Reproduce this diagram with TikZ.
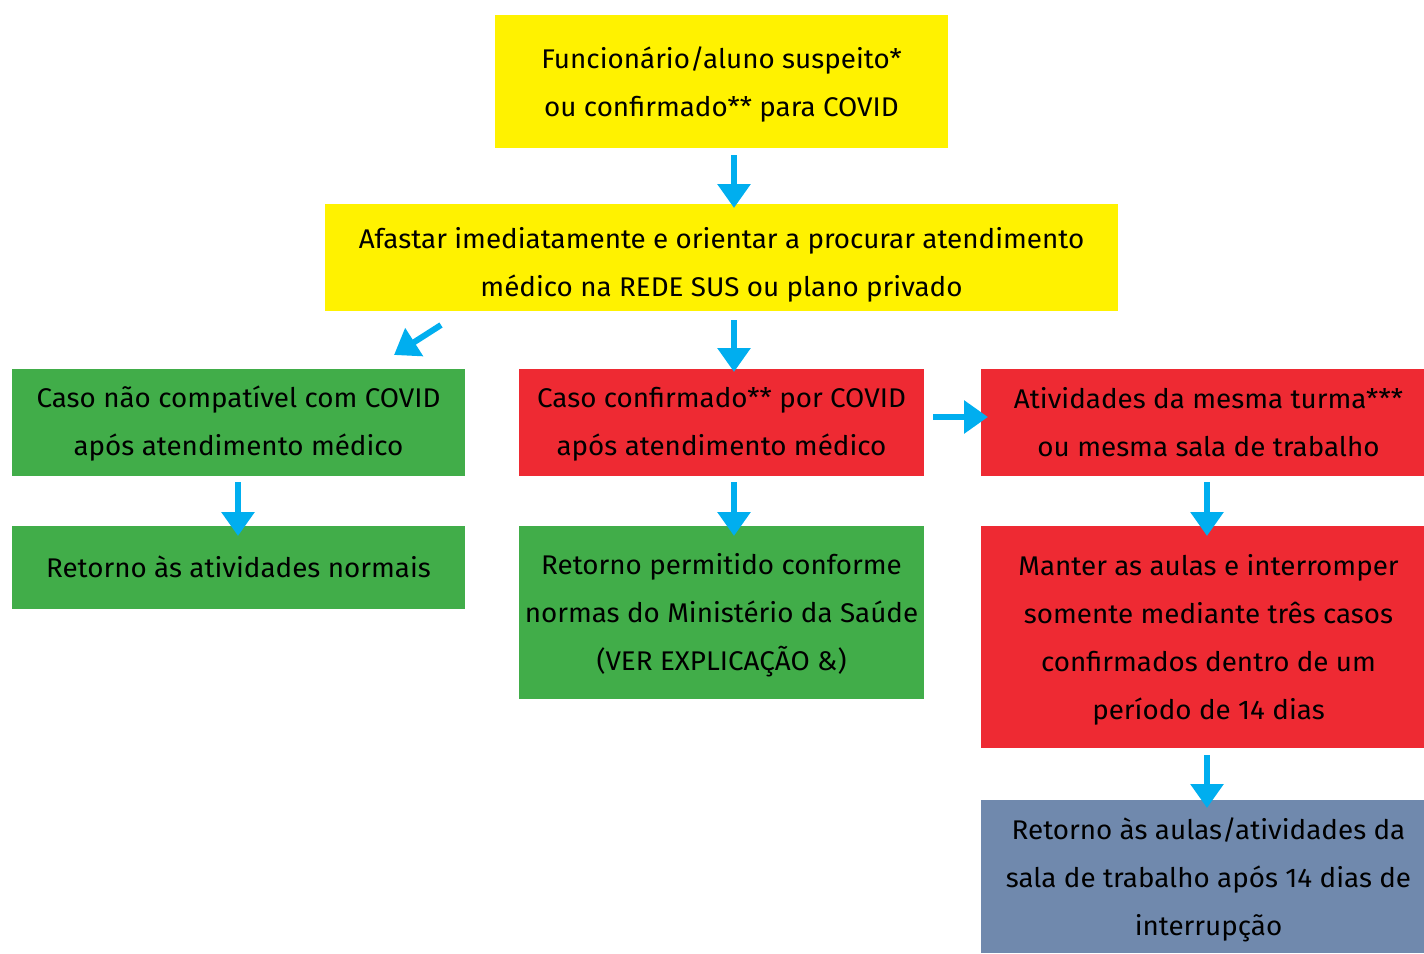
\documentclass[tikz,border=0pt]{standalone}
\usepackage{fontspec}
\setmainfont{Fira Sans}[FakeStretch=1.03]
\usetikzlibrary{arrows.meta}
\definecolor{cyel}{HTML}{FFF200}
\definecolor{cgrn}{HTML}{41AD49}
\definecolor{cred}{HTML}{EE2A33}
\definecolor{cblu}{HTML}{7089AD}
\definecolor{carr}{HTML}{00AEEF}
\tikzset{
  box/.style={inner sep=0pt, outer sep=0pt, align=center, font=\fontsize{27}{48}\selectfont, text=black},
  arr/.style={draw=carr, line width=6pt, -{Triangle[width=32pt,length=24pt]}}
}
\begin{document}
\begin{tikzpicture}[x=1pt,y=-1pt]
\useasboundingbox (0,0) rectangle (1424,953);
% boxes
\fill[cyel] (495,15) rectangle (948,148);
\node[box] (top) at (721.5,84) {Funcionário/aluno suspeito*\\ou confirmado** para COVID};
\fill[cyel] (325,204) rectangle (1118,311);
\node[box] (afast) at (721.5,265) {Afastar imediatamente e orientar a procurar atendimento\\médico na REDE SUS ou plano privado};
\fill[cgrn] (12,369) rectangle (465,476);
\node[box] (g1) at (238.5,424) {Caso não compatível com COVID\\após atendimento médico};
\fill[cred] (519,369) rectangle (924,476);
\node[box] (r1) at (721.5,424) {Caso confirmado** por COVID\\após atendimento médico};
\fill[cred] (981,369) rectangle (1424,476);
\node[box] (r2) at (1208.5,422) {Atividades da mesma turma***\\ou mesma sala de trabalho};
\fill[cgrn] (12,526) rectangle (465,609);
\node[box] (g2) at (238.5,566.5) {Retorno às atividades normais};
\fill[cgrn] (519,526) rectangle (924,699);
\node[box] (g3) at (721.5,615.5) {Retorno permitido conforme\\normas do Ministério da Saúde\\(VER EXPLICAÇÃO \&)};
\fill[cred] (981,526) rectangle (1424,748);
\node[box] (r3) at (1208.5,639.5) {Manter as aulas e interromper\\somente mediante três casos\\confirmados dentro de um\\período de 14 dias};
\fill[cblu] (981,800) rectangle (1424,953);
\node[box] (b1) at (1208.5,879.5) {Retorno às aulas/atividades da\\sala de trabalho após 14 dias de\\interrupção};
% anchors on box edges
\coordinate (topS) at (734,148);
\coordinate (afastN) at (734,204);
\coordinate (afastS) at (734,311);
\coordinate (r1N) at (734,369);
\coordinate (r1S) at (734,476);
\coordinate (g3N) at (734,526);
\coordinate (g1S) at (238,476);
\coordinate (g2N) at (238,526);
\coordinate (r2S) at (1207,476);
\coordinate (r3N) at (1207,526);
\coordinate (r3S) at (1207,748);
\coordinate (b1N) at (1207,800);
\coordinate (r1E) at (924,417);
\coordinate (r2W) at (981,417);
\coordinate (dA) at (441,325);
\coordinate (dB) at (394,355);
% arrows
\draw[arr] ([yshift=-7pt]topS) -- ([yshift=-4pt]afastN);
\draw[arr] ([yshift=-9pt]afastS) -- ([yshift=-3pt]r1N);
\draw[arr] ([yshift=-6pt]r1S) -- ([yshift=-10pt]g3N);
\draw[arr] ([yshift=-6pt]g1S) -- ([yshift=-10pt]g2N);
\draw[arr] ([yshift=-6pt]r2S) -- ([yshift=-10pt]r3N);
\draw[arr] ([yshift=-7pt]r3S) -- ([yshift=-8pt]b1N);
\draw[arr] ([xshift=9pt]r1E) -- ([xshift=7pt]r2W);
\draw[arr] (dA) -- (dB);
\end{tikzpicture}
\end{document}
